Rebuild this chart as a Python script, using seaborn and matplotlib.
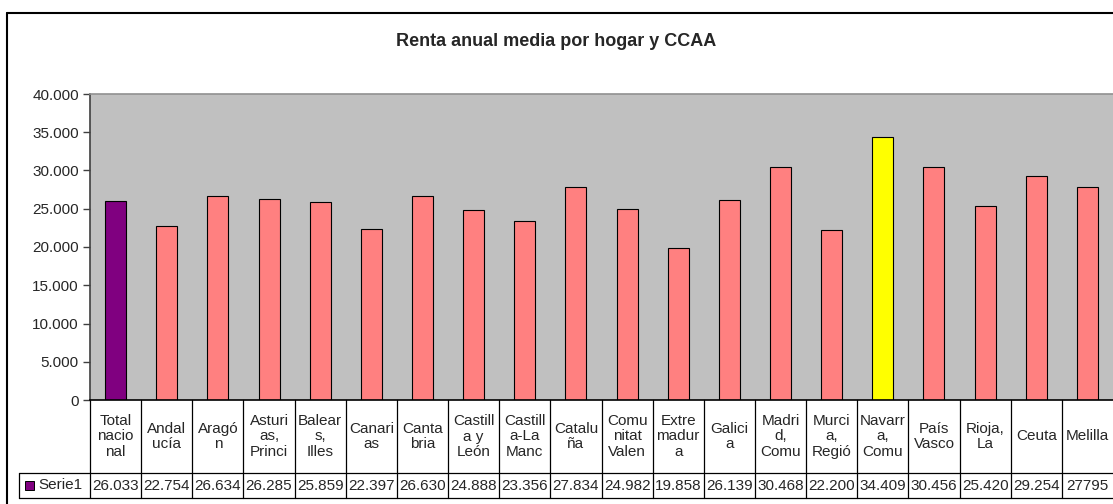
import seaborn as sns
import matplotlib.pyplot as plt
import pandas as pd
from matplotlib.lines import Line2D
from matplotlib.patches import Rectangle
from matplotlib.ticker import FuncFormatter


# Datos del gráfico
regiones = ['Total nacional', 'Andalucía', 'Aragón', 'Asturias, Principado', 'Balears, Illes',
            'Canarias', 'Cantabria', 'Castilla y León', 'Castilla-La Mancha', 'Cataluña',
            'Comunitat Valenciana', 'Extremadura', 'Galicia', 'Madrid, Comunidad',
            'Murcia, Región', 'Navarra, Comunidad', 'País Vasco', 'Rioja, La', 'Ceuta', 'Melilla']
etiquetas = ['Total\nnacio\nnal', 'Andal\nucía', 'Aragó\nn', 'Asturi\nas,\nPrinci', 'Balear\ns,\nIlles',
             'Canari\nas', 'Canta\nbria', 'Castill\na y\nLeón', 'Castill\na-La\nManc', 'Catalu\nña',
             'Comu\nnitat\nValen', 'Extre\nmadur\na', 'Galici\na', 'Madri\nd,\nComu', 'Murci\na,\nRegió',
             'Navarr\na,\nComu', 'País\nVasco', 'Rioja,\nLa', 'Ceuta', 'Melilla']
renta = [26033, 22754, 26634, 26285, 25859, 22397, 26630, 24888, 23356, 27834,
         24982, 19858, 26139, 30468, 22200, 34409, 30456, 25420, 29254, 27795]
valores_tabla = ['26.033', '22.754', '26.634', '26.285', '25.859', '22.397', '26.630', '24.888',
                 '23.356', '27.834', '24.982', '19.858', '26.139', '30.468', '22.200', '34.409',
                 '30.456', '25.420', '29.254', '27795']
colores = ['#800080'] + ['#FF8080'] * 14 + ['#FFFF00'] + ['#FF8080'] * 4

df = pd.DataFrame({'region': regiones, 'renta': renta})

sns.set_style('white')
plt.rcParams['font.family'] = ['Liberation Sans', 'DejaVu Sans']
fs = 11

W, H = 1113, 504
fig = plt.figure(figsize=(W / 100, H / 100), dpi=100)
ax = fig.add_axes([90 / W, (H - 400) / H, 1023 / W, 306 / H])

sns.barplot(data=df, x='region', y='renta', hue='region', palette=colores, legend=False,
            width=0.41, edgecolor='black', linewidth=0.8, saturation=1, ax=ax)

ax.set_facecolor('#C0C0C0')
ax.set_xlim(-0.5, len(regiones) - 0.5)
ax.set_ylim(0, 40000)
ax.set_yticks(range(0, 40001, 5000))
ax.yaxis.set_major_formatter(FuncFormatter(lambda v, p: f'{int(v):,}'.replace(',', '.')))
ax.tick_params(axis='y', length=5, width=1, color='#404040', labelsize=fs, pad=3, left=True)
ax.tick_params(axis='x', length=0, labelbottom=False)
ax.set_xlabel('')
ax.set_ylabel('')
ax.spines['top'].set_color('#909090')
ax.spines['right'].set_visible(False)
ax.spines['left'].set_color('#404040')
ax.spines['bottom'].set_color('black')
for s in ax.spines.values():
    s.set_linewidth(1.2)

# Tabla de datos bajo el gráfico
tr = ax.get_xaxis_transform()
y_sep = -73 / 306
y_bot = -98 / 306
n = len(regiones)
for k in range(n):
    ax.add_line(Line2D([k - 0.5, k - 0.5], [0, y_bot], transform=tr, color='black',
                       lw=0.9, clip_on=False))
    ax.text(k, y_sep / 2, etiquetas[k], transform=tr, ha='center', va='center',
            fontsize=fs, linespacing=1.12, clip_on=False)
    ax.text(k, (y_sep + y_bot) / 2, valores_tabla[k], transform=tr, ha='center', va='center',
            fontsize=fs, clip_on=False)

x_izq = 19 / W
fig.add_artist(Line2D([x_izq, 1], [(H - 473) / H, (H - 473) / H], color='black', lw=0.9))
fig.add_artist(Line2D([x_izq, 1], [(H - 498) / H, (H - 498) / H], color='black', lw=0.9))
fig.add_artist(Line2D([x_izq, x_izq], [(H - 473) / H, (H - 498) / H], color='black', lw=0.9))
fig.add_artist(Rectangle((25 / W, (H - 490) / H), 9 / W, 9 / H, facecolor='#800080',
                         edgecolor='black', lw=0.7))
fig.text(38 / W, (H - 485) / H, 'Serie1', fontsize=fs, ha='left', va='center')

# Marco exterior del gráfico
fig.add_artist(Line2D([7 / W, 7 / W], [0, (H - 13) / H], color='black', lw=1.5))
fig.add_artist(Line2D([7 / W, 1], [(H - 13) / H, (H - 13) / H], color='black', lw=1.5))

fig.text(0.5, (H - 42) / H, 'Renta anual media por hogar y CCAA', fontsize=13,
         fontweight='bold', ha='center', va='center')

fig.savefig('out.png', dpi=100)
